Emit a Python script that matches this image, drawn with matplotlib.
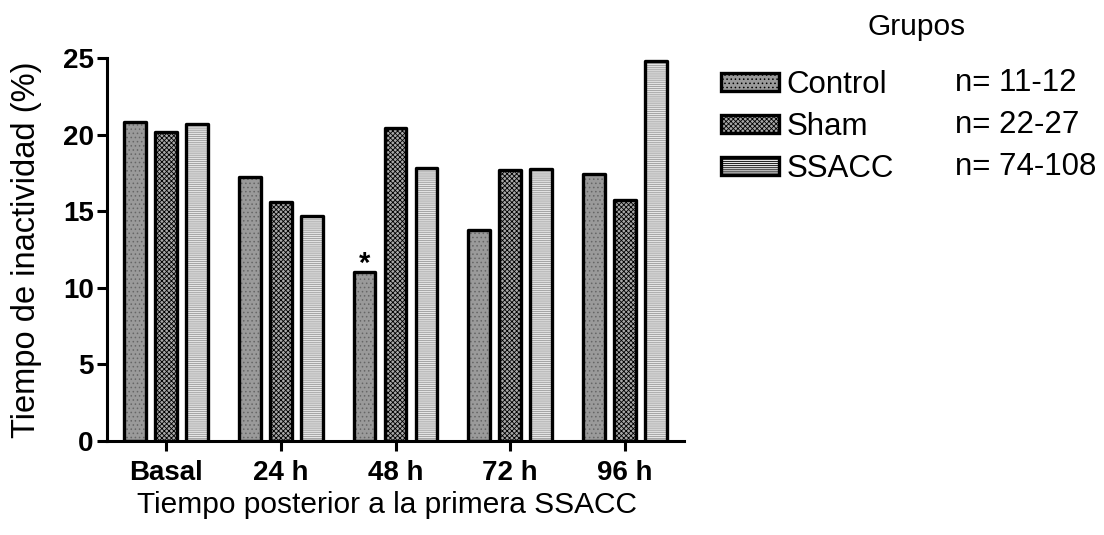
import matplotlib
matplotlib.use("Agg")
import matplotlib.pyplot as plt
import numpy as np
from matplotlib.patches import Patch

plt.rcParams['font.family'] = ['Liberation Sans', 'DejaVu Sans']
plt.rcParams['hatch.linewidth'] = 0.6

categories = ["Basal", "24 h", "48 h", "72 h", "96 h"]
groups = ["Control", "Sham", "SSACC"]
n_labels = ["n= 11-12", "n= 22-27", "n= 74-108"]
control = [20.8, 17.2, 11.0, 13.8, 17.4]
sham = [20.2, 15.6, 20.4, 17.7, 15.7]
ssacc = [20.7, 14.7, 17.8, 17.75, 24.8]
yticks = [0, 5, 10, 15, 20, 25]

styles = [
    dict(face="#9a9a9a", hatch="....", hcolor="#666666"),
    dict(face="#a8a8a8", hatch="xxxxxxx", hcolor="#000000"),
    dict(face="#e6e6e6", hatch="--------", hcolor="#9a9a9a"),
]

fig = plt.figure(figsize=(11.04, 5.35), dpi=100)
ax = fig.add_axes([107/1104, 1-441/535, (684-107)/1104, (441-58)/535])

x = np.arange(len(categories))
offs = [-0.27, 0.0, 0.27]
w = 0.19
for vals, st, off in zip([control, sham, ssacc], styles, offs):
    ax.bar(x + off, vals, w, color=st["face"], hatch=st["hatch"],
           edgecolor=st["hcolor"], linewidth=0, zorder=2)
    ax.bar(x + off, vals, w, facecolor="none", edgecolor="black",
           linewidth=2.4, joinstyle="round", zorder=3)

ax.text(x[2] + offs[0], control[2] + 0.55, "*", ha="center", va="center",
        fontsize=21, fontweight="bold")

ax.set_xlim(-0.514, 4.514)
ax.set_ylim(0, 25)
ax.set_yticks(yticks)
ax.set_xticks(x)
ax.set_xticklabels(categories, fontsize=20, fontweight="bold")
ax.set_yticklabels([str(t) for t in yticks], fontsize=20, fontweight="bold")
for s in ["top", "right"]:
    ax.spines[s].set_visible(False)
for s in ["left", "bottom"]:
    ax.spines[s].set_linewidth(2.2)
ax.tick_params(axis="both", width=2.2, length=7.5, pad=2)
ax.tick_params(axis="x", pad=6)
ax.set_xlabel("Tiempo posterior a la primera SSACC", fontsize=21.5)
ax.xaxis.set_label_coords(0.485, -0.13)
ax.set_ylabel("Tiempo de inactividad (%)", fontsize=23.5)
ax.yaxis.set_label_coords(-0.112, 0.5)

# legend
handles = []
for st in styles:
    handles.append(Patch(facecolor=st["face"], hatch=st["hatch"],
                         edgecolor="black", linewidth=2.4))
leg = fig.legend(handles, groups, loc="upper left",
                 bbox_to_anchor=(721/1104, 1-70/535), frameon=False,
                 fontsize=22.5, handlelength=1.85, handleheight=0.5,
                 handletextpad=0.25, labelspacing=0.38, borderpad=0,
                 borderaxespad=0)
for i, t in enumerate(n_labels):
    fig.text(955/1104, 1-(83 + 42*i)/535, t, fontsize=22.5, va="center", ha="left")
fig.text(917/1104, 1-27/535, "Grupos", fontsize=21.5, ha="center", va="center")

fig.savefig("out.png", dpi=100)
